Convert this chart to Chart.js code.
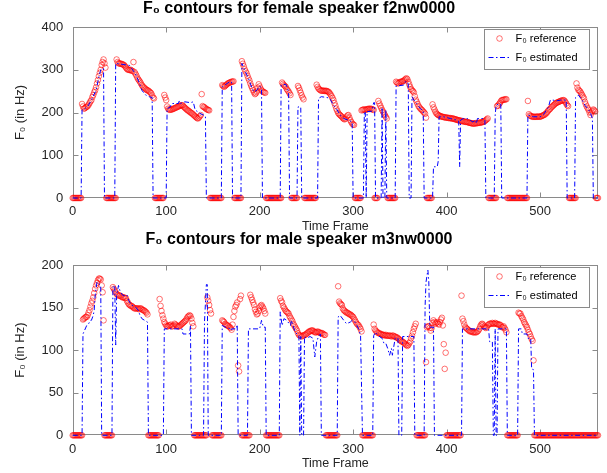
<!DOCTYPE html>
<html>
<head>
<meta charset="utf-8">
<script src="https://cdn.jsdelivr.net/npm/chart.js@4"></script>
<style>
html, body { margin: 0; padding: 0; background: #fff; }
#wrap { position: relative; width: 607px; height: 473px; overflow: hidden; }
canvas { position: absolute; left: 0; }
</style>
</head>
<body>
<div id="wrap">
  <canvas id="femaleChart" width="607" height="236" style="top:0px"></canvas>
  <canvas id="maleChart" width="607" height="245" style="top:228px"></canvas>
</div>
<script>
var FONT = "'Liberation Sans', Arial, Helvetica, sans-serif";
var lastFrame = 562;
var xTicks = [0, 100, 200, 300, 400, 500];
var femaleYTicks = [0, 100, 200, 300, 400];
var maleYTicks = [0, 50, 100, 150, 200];

// reference F0: [first frame, values per frame]; every other frame is 0 (unvoiced)
var femaleRef = [
  [10, [220,214,209,210,212,213,215,218,222,226,229,236,241,247,252,259,268,276,285,293,300,311,318,324,315,305]],
  [47, [324,318,315,315,314,314,313,312,311,308,305,302,300,300,299,300,298,297,318,295,291,287,282,278,275,272,268,264,261,259,257,255,253,252,251,249,247,245,240,235,233]],
  [98, [241,235,229,214,209,207,206,207,207,208,209,210,211,212,213,214,215,216,217,217,216,213,211,209,207,205,204,202,200,199,197,195,193,191,189,187,186,188,191,194,243,215,213,212,210,208,207,206,205]],
  [160, [264,262,260,262,264,266,268,269,270,271,272,272,273]],
  [181, [320,314,308,301,296,292,286,280,275,268,262,257,252,247,243,245,249,258,266,261,256,252,250,248,247,246]],
  [224, [270,267,264,262,260,255,252,249,245,241]],
  [241, [262,258,252,246,240,235,231]],
  [261, [265,260,256,254,252,251,251,251,251,250,251,250,249,248,245,242,238,234,229,222,216,209,204,199,196,194,192,190,187,185,184,186,190,193,194,188,182,178,174,172,171]],
  [309, [205,206,207,207,206,207,208,208,209,208,209,208,207,206]],
  [327, [227,221,216,211,206,202,198,194,190,186]],
  [346, [272,270,268,269,271,272,272,273,274,276,278,280,278,272,266,260,255,252,250,247,238,230,225,220,215,212,209,207,205,202,200,197,188]],
  [385, [219,212,207,202,198,196,194,193,192,191,190,190,189,189,188,188,188,187,187,187,186,186,186,185,184,184,183,182,182,181,181,180,180,179,179,178,178,178,177,176,176,175,175,174,174,174,175,175,175,176,176,176,177,177,178,179,180,182,184,186]],
  [454, [215,216,219,222,226,229,229,230,230,231,231]],
  [487, [227,196,193,192,191,190,190,190,190,190,190,191,190,190,191,192,193,194,195,197,199,202,205,207,209,212,214,216,218,220,222,223,224,225,226,227,228,228,229,228,225,221,217,215]],
  [539, [268,258,253,251,249,245,241,237,233,225,219,214,210,206,200,194,200,204,207,205,202]]
];

// estimated F0 contour vertices: [frame, Hz]
var femaleEst = [[0,0],[9,0],[10,206],[13,209],[16,214],[20,229],[25,252],[28,283],[30,300],[33,303],[34,0],[45,0],[46,315],[61,310],[63,303],[67,291],[70,276],[74,252],[78,241],[82,237],[85,235],[86,0],
  [100,0],[101,209],[104,212],[106,221],[113,221],[114,227],[115,221],[120,225],[126,223],[129,225],[131,206],[136,198],[140,194],[142,192],[143,0],
  [159,0],[160,260],[164,266],[168,272],[170,272],[171,0],[180,0],[181,315],[184,299],[188,280],[192,256],[194,248],[197,252],[200,262],[202,256],[203,0],
  [222,0],[223,264],[228,266],[230,256],[231,245],[232,0],[240,0],[241,213],[244,213],[245,0],[262,0],[263,233],[266,237],[272,235],[275,233],[279,217],[283,206],[286,194],[290,186],[295,182],[299,178],[300,0],
  [311,0],[312,202],[313,202],[314,0],[315,202],[320,203],[322,223],[323,223],[324,0],[330,0],[331,212],[332,0],[334,0],[335,206],[336,0],
  [345,0],[346,262],[354,264],[356,272],[358,272],[359,266],[360,0],[362,0],[363,237],[365,229],[368,221],[372,209],[375,204],[376,0],
  [385,0],[386,73],[390,73],[391,85],[392,190],[397,190],[404,186],[411,182],[413,180],[414,73],[415,182],[418,186],[422,186],[425,182],[428,178],[431,182],[432,174],[433,186],[439,186],[441,182],[442,0],
  [451,0],[452,194],[453,217],[456,220],[458,220],[459,0],[486,0],[487,194],[493,190],[500,190],[504,196],[509,213],[511,229],[514,229],[517,227],[522,229],[528,229],[529,0],
  [537,0],[538,235],[541,241],[545,229],[548,217],[552,206],[554,198],[556,186],[557,0],[562,0]];

var maleRef = [
  [11, [136,137,138,139,139,141,144,147,151,155,158,162,167,172,176,179,182,184,184,183,176,168,135]],
  [43, [174,172,170,168,166,165,164,164,164,163,162,162,162,161,161,158,156,154,153,152,152,151,150,149,149,149,149,149,148,149,149,148,147,147,146,145,144,142]],
  [93, [160,152,146,141,137,133,131,129,128,128,129,129,130,128,128,129,131,130,129,128,128,128,129,130,131,132,133,134,135,137,139,140,141,140,137,132,128]],
  [144, [162,158,153,147,143]],
  [160, [135,134,133,131,130,129,129,128,127,126,124,130,139,146,151,153,156,82,75,160,164]],
  [190, [165,162,159,156,153,148,145,142,143,146,150,152,153,151,149,146,143]],
  [222, [161,158,156,152,150,148,146,145,144,143,140,138,136,134,131,129,127,125,123,120,118,117,117,116,117,117,118,118,119,120,121,122,122,123,123,123,122,121,121,121,122,121,121,120,120,120,119,118,118]],
  [284, [175,157,155,154,153,149,147,146,145,144,144,143,142,142,141,140,139,137,135,133,131,130,129,127,125,122]],
  [322, [130,125,123,122,121,120,120,119,119,118,118,118,117,118,117,117,117,117,117,116,117,117,116,116,115,115,114,113,112,111,110,110,109,108,107,106,105,106,108,110,114,117,121,125,128,131]],
  [378, [86,127,128,128,126,123,126,132,135,133,131,132,133,131,130,133,136,138,129,107,78,97]],
  [416, [164,137,134,130,127,126,125,124,123,122,122,122,121,121,121,121,121,122,123,125,128,130,131,130,128,127,126,127,129,130,131,131,131,132,131,131,132,131,131,130,130,130,129,127,127,128,126,124,121]],
  [477, [144,143,143,140,138,136,133,131,129,127,124,121,119,116,113,111,88]]
];

var maleEst = [[0,0],[10,0],[11,119],[15,129],[17,131],[19,135],[20,135],[22,141],[23,147],[24,164],[26,180],[28,178],[30,176],[31,0],
  [42,0],[43,174],[45,176],[46,106],[47,164],[49,176],[51,168],[54,164],[58,165],[60,158],[63,153],[67,151],[70,147],[72,141],[74,137],[77,135],[80,133],[81,0],
  [97,0],[98,125],[117,125],[118,119],[125,119],[126,129],[127,0],[140,0],[141,133],[143,177],[144,177],[145,0],
  [159,0],[160,129],[163,127],[167,126],[169,123],[170,125],[175,125],[176,130],[177,0],[187,0],[188,125],[200,125],[202,135],[204,127],[206,127],[207,0],
  [221,0],[222,145],[224,129],[226,137],[229,135],[233,129],[234,135],[238,121],[242,117],[243,0],[244,116],[245,0],[247,0],[248,116],[250,114],[254,116],[257,114],[259,92],[261,110],[263,116],[265,119],[266,0],
  [283,0],[284,139],[286,141],[290,135],[293,131],[297,133],[299,135],[302,133],[306,125],[308,117],[310,0],
  [321,0],[322,117],[324,121],[327,117],[331,114],[333,108],[335,108],[337,102],[339,94],[341,102],[342,94],[345,114],[348,114],[349,0],[352,0],[353,116],[365,116],[366,0],
  [376,0],[377,151],[378,180],[380,194],[381,180],[382,127],[386,127],[387,0],
  [416,0],[417,125],[445,125],[446,110],[449,110],[450,0],[451,0],[452,125],[453,0],[454,0],[455,125],[464,125],[465,0],
  [476,0],[477,125],[480,125],[481,119],[486,119],[487,114],[490,114],[491,78],[493,77],[494,0],[562,0]];

function buildRef(segments) {
  var pts = [];
  for (var f = 0; f <= lastFrame; f++) pts.push({x: f, y: 0});
  segments.forEach(function (s) {
    s[1].forEach(function (v, i) { pts[s[0] + i].y = v; });
  });
  return pts;
}

function toPoints(list) {
  return list.map(function (p) { return {x: p[0], y: p[1]}; });
}

var DASHDOT = [5, 2.5, 1.5, 2.5];
var AXIS_GRAY = '#8a8a8a';
var CIRCLE_RED = 'rgba(255,0,0,0.7)';

// MATLAB-like box with inward ticks on all four sides
var boxPlugin = {
  id: 'matlabBox',
  beforeDatasetsDraw: function (chart) {
    var ctx = chart.ctx, a = chart.chartArea, x = chart.scales.x, y = chart.scales.y;
    var L = Math.round(a.left) + 0.5, R = Math.round(a.right) - 0.5;
    var T = Math.round(a.top) + 0.5, B = Math.round(a.bottom) - 0.5;
    ctx.save();
    ctx.strokeStyle = AXIS_GRAY;
    ctx.lineWidth = 1;
    ctx.strokeRect(L, T, R - L, B - T);
    ctx.beginPath();
    x.ticks.forEach(function (t) {
      var px = Math.round(x.getPixelForValue(t.value)) + 0.5;
      ctx.moveTo(px, B); ctx.lineTo(px, B - 5);
      ctx.moveTo(px, T); ctx.lineTo(px, T + 5);
    });
    y.ticks.forEach(function (t) {
      var py = Math.round(y.getPixelForValue(t.value)) + 0.5;
      ctx.moveTo(L, py); ctx.lineTo(L + 5, py);
      ctx.moveTo(R, py); ctx.lineTo(R - 5, py);
    });
    ctx.stroke();
    ctx.restore();
  }
};

var legendPlugin = {
  id: 'boxLegend',
  afterDatasetsDraw: function (chart) {
    var ctx = chart.ctx, a = chart.chartArea, ds = chart.data.datasets;
    var w = 105, h = 40;
    var left = Math.round(a.right - 9 - w) + 0.5, top = Math.round(a.top + 2) + 0.5;
    ctx.save();
    ctx.fillStyle = '#fff';
    ctx.fillRect(left, top, w, h);
    ctx.strokeStyle = AXIS_GRAY;
    ctx.lineWidth = 1;
    ctx.strokeRect(left, top, w, h);
    ctx.beginPath();
    ctx.arc(left + 15, top + 9, 2.8, 0, Math.PI * 2);
    ctx.strokeStyle = CIRCLE_RED;
    ctx.lineWidth = 0.8;
    ctx.stroke();
    ctx.beginPath();
    ctx.setLineDash(DASHDOT);
    ctx.strokeStyle = '#0000ff';
    ctx.lineWidth = 1;
    ctx.moveTo(left + 4, top + 28);
    ctx.lineTo(left + 27, top + 28);
    ctx.stroke();
    ctx.setLineDash([]);
    ctx.fillStyle = '#000';
    ctx.font = '11px ' + FONT;
    ctx.textBaseline = 'middle';
    ctx.fillText(ds[0].label, left + 31, top + 9);
    ctx.fillText(ds[1].label, left + 31, top + 28);
    ctx.restore();
  }
};

function makeChart(id, title, refSegs, est, yTicks, titlePad, xAxisHeight) {
  var yMax = yTicks[yTicks.length - 1];
  return new Chart(document.getElementById(id), {
    type: 'scatter',
    data: {
      datasets: [{
        label: 'F\u2080 reference',
        data: buildRef(refSegs),
        showLine: false,
        pointStyle: 'circle',
        pointRadius: 2.8,
        pointBorderWidth: 0.8,
        pointBorderColor: CIRCLE_RED,
        pointBackgroundColor: 'rgba(0,0,0,0)',
        clip: false,
        order: 1
      }, {
        label: 'F\u2080 estimated',
        data: toPoints(est),
        showLine: true,
        borderColor: '#0000ff',
        borderWidth: 1,
        borderDash: DASHDOT,
        pointRadius: 0,
        tension: 0,
        fill: false,
        clip: false,
        order: 0
      }]
    },
    options: {
      responsive: false,
      animation: false,
      events: [],
      layout: { padding: { left: 0, right: 9, top: 0, bottom: 0 } },
      plugins: {
        legend: { display: false },
        tooltip: { enabled: false },
        title: {
          display: true,
          text: title,
          color: '#000',
          font: { family: FONT, size: 16, weight: 'bold', lineHeight: 1 },
          padding: titlePad
        }
      },
      scales: {
        x: {
          type: 'linear',
          min: 0,
          max: lastFrame,
          grid: { display: false, drawTicks: false },
          border: { display: false },
          afterBuildTicks: function (s) { s.ticks = xTicks.map(function (v) { return {value: v}; }); },
          afterFit: function (s) { s.height = xAxisHeight; },
          ticks: { color: '#262626', font: { family: FONT, size: 13 }, padding: 6, maxRotation: 0, autoSkip: false },
          title: { display: true, text: 'Time Frame', color: '#262626', font: { family: FONT, size: 12.5 }, padding: { top: 0, bottom: 1.5 } }
        },
        y: {
          type: 'linear',
          min: 0,
          max: yMax,
          grid: { display: false, drawTicks: false },
          border: { display: false },
          afterBuildTicks: function (s) { s.ticks = yTicks.map(function (v) { return {value: v}; }); },
          afterFit: function (s) { s.width = 72.7; },
          ticks: { color: '#262626', font: { family: FONT, size: 13 }, padding: 9.4, autoSkip: false },
          title: { display: true, text: 'F\u2080 (in Hz)', color: '#262626', font: { family: FONT, size: 13 }, padding: { top: 12.2, bottom: 0 } }
        }
      }
    },
    plugins: [boxPlugin, legendPlugin]
  });
}

makeChart('femaleChart', 'F\u2080 contours for female speaker f2nw0000', femaleRef, femaleEst, femaleYTicks, { top: 0.5, bottom: 10.5 }, 38);
makeChart('maleChart', 'F\u2080 contours for male speaker m3nw0000', maleRef, maleEst, maleYTicks, { top: 3.7, bottom: 17.3 }, 37.7);
</script>
</body>
</html>
